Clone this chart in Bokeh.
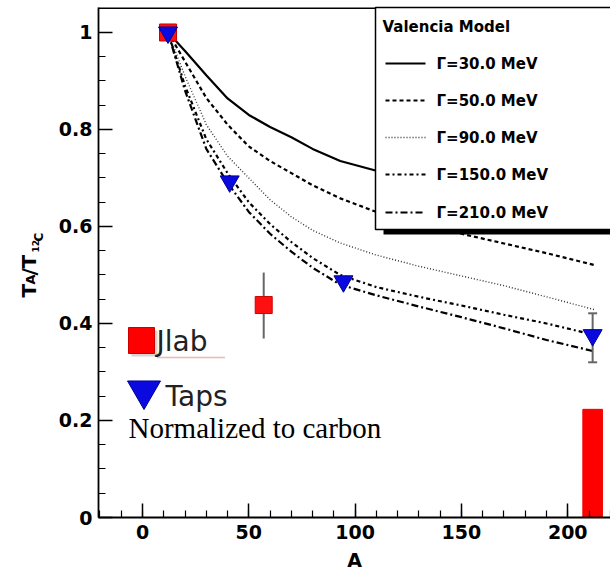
import math
from bokeh.plotting import figure
from bokeh.models import (Range1d, SingleIntervalTicker, CustomJSTickFormatter, Label,
                          BoxAnnotation)
from bokeh.embed import file_html
from bokeh.resources import INLINE

# ---------------- data ----------------
A_grid = [12, 20, 30, 40, 50, 60, 70, 80, 93, 110, 130, 150, 170, 190, 213]
ratio_g30 = [1.0, 0.962, 0.912, 0.864, 0.830, 0.805, 0.784, 0.760, 0.735, 0.715, 0.695, 0.678, 0.663, 0.650, 0.636]
ratio_g50 = [1.0, 0.940, 0.865, 0.810, 0.765, 0.735, 0.710, 0.685, 0.658, 0.630, 0.606, 0.585, 0.565, 0.545, 0.520]
ratio_g90 = [1.0, 0.910, 0.810, 0.745, 0.700, 0.655, 0.620, 0.592, 0.566, 0.541, 0.518, 0.498, 0.478, 0.455, 0.428]
ratio_g150 = [1.0, 0.890, 0.780, 0.710, 0.650, 0.605, 0.568, 0.535, 0.500, 0.475, 0.455, 0.437, 0.418, 0.400, 0.376]
ratio_g210 = [1.0, 0.880, 0.760, 0.690, 0.630, 0.585, 0.548, 0.515, 0.480, 0.458, 0.435, 0.413, 0.390, 0.366, 0.342]
gamma_labels = ["\u0393=30.0 MeV", "\u0393=50.0 MeV", "\u0393=90.0 MeV", "\u0393=150.0 MeV", "\u0393=210.0 MeV"]
legend_title = "Valencia Model"

taps_A = [12, 41, 94.5, 211.7]
taps_ratio = [1.0, 0.693, 0.487, 0.376]
taps_err_A = [211.7]
taps_err_lo = [0.320]
taps_err_hi = [0.421]

jlab_A = [12, 57]
jlab_ratio = [1.0, 0.438]
jlab_err_A = [57]
jlab_err_lo = [0.369]
jlab_err_hi = [0.505]
jlab_bar_A = [211.7]
jlab_bar_top = [0.223]

x_label = "A"
x_axis_start = -20.7
y_axis_top = 1.0515

# ---------------- layout (frame covers whole canvas; axes at fixed locations) ----------------
W, H = 610, 571
AXL, AXB, AXT = 98, 517, 7          # canvas x of y axis, canvas y of x axis, top frame line
x_end = 220.1
x_per_px = (x_end - x_axis_start) / (W - AXL)
x_start = x_axis_start - AXL * x_per_px
y_per_px = y_axis_top / (AXB - AXT)
y_start = -(H - AXB) * y_per_px
y_end = y_axis_top + AXT * y_per_px
SANS = "DejaVu Sans"


def cx2a(cx):
    return x_start + cx * x_per_px


def cy2r(cy):
    return y_end - cy * y_per_px


def sy(cy):
    return H - cy


def base(cy, fs):
    # canvas baseline -> Label y (compensates the renderer's baseline offset)
    return sy(cy - 0.34 * fs)


p = figure(frame_width=W, frame_height=H, min_border_left=0, min_border_right=0,
           min_border_top=0, min_border_bottom=0,
           x_range=Range1d(x_start, x_end), y_range=Range1d(y_start, y_end),
           output_backend="svg", toolbar_location=None, tools="")
p.grid.visible = False
p.outline_line_color = None
p.background_fill_color = "white"
p.border_fill_color = "white"

p.xaxis.ticker = SingleIntervalTicker(interval=50, num_minor_ticks=5)
p.yaxis.ticker = SingleIntervalTicker(interval=0.2, num_minor_ticks=4)
p.yaxis.formatter = CustomJSTickFormatter(code="return String(Math.round(tick*10)/10);")
p.xaxis.bounds = (x_axis_start, x_end)
p.yaxis.bounds = (0, y_axis_top)
p.xaxis.fixed_location = 0
p.yaxis.fixed_location = x_axis_start
for ax in (p.xaxis, p.yaxis):
    ax.major_tick_in = 14
    ax.major_tick_out = 0
    ax.minor_tick_in = 7
    ax.minor_tick_out = 0
    ax.major_tick_line_color = "black"
    ax.minor_tick_line_color = "black"
    ax.major_tick_line_width = 1.5
    ax.minor_tick_line_width = 1.2
    ax.axis_line_color = "black"
    ax.axis_line_width = 1.8
    ax.major_label_text_font = SANS
    ax.major_label_text_font_style = "bold"
    ax.major_label_text_font_size = "19px"
    ax.major_label_text_color = "black"
p.xaxis.axis_line_width = 2.2
p.xaxis.major_label_standoff = 7
p.yaxis.major_label_standoff = 6

# x-axis title, centred under the drawn axis
p.add_layout(Label(x=354, y=base(566, 19), x_units="screen", y_units="screen", text=x_label,
                   text_font=SANS, text_font_style="bold", text_font_size="19px",
                   text_color="black", text_align="center", text_baseline="alphabetic"))

# top frame line
p.add_layout(BoxAnnotation(left=x_axis_start, right=x_end, top=y_axis_top,
                           bottom=y_axis_top - 1.6 * y_per_px,
                           fill_color="black", fill_alpha=1.0, line_color=None))

# ---------------- curves ----------------
curve_sets = [ratio_g30, ratio_g50, ratio_g90, ratio_g150, ratio_g210]
styles = [
    dict(line_dash="solid", line_width=2.2, line_color="black"),
    dict(line_dash="4 3", line_width=2.2, line_color="black"),
    dict(line_dash="1 2", line_width=1.4, line_color="#333333"),
    dict(line_dash="4 3 2 3", line_width=2.2, line_color="black"),
    dict(line_dash="7 3 2 3", line_width=2.2, line_color="black"),
]
for vals, st in zip(curve_sets, styles):
    p.line(A_grid, vals, **st)

# ---------------- data points ----------------
p.segment(x0=jlab_err_A, y0=jlab_err_lo, x1=jlab_err_A, y1=jlab_err_hi, line_color="#666666", line_width=2)
p.segment(x0=taps_err_A, y0=taps_err_lo, x1=taps_err_A, y1=taps_err_hi, line_color="#666666", line_width=2)
p.scatter(taps_err_A + taps_err_A, taps_err_lo + taps_err_hi, marker="dash", size=9,
          line_color="#666666", line_width=2)
p.vbar(x=jlab_bar_A, top=jlab_bar_top, bottom=0, width=9.2, fill_color="#ff0000", line_color="#ee0000")
p.scatter(jlab_A, jlab_ratio, marker="square", size=17, fill_color="#ff1010", line_color="#cc0000")
p.scatter(taps_A, taps_ratio, marker="inverted_triangle", size=19, fill_color="#0a0ae0", line_color="#000090")

# ---------------- Valencia legend box ----------------
p.add_layout(BoxAnnotation(left=383, right=640, top=sy(229), bottom=sy(234),
                           left_units="screen", right_units="screen", top_units="screen",
                           bottom_units="screen", fill_color="black", fill_alpha=1.0,
                           line_color=None))
p.add_layout(BoxAnnotation(left=375, right=640, top=sy(7), bottom=sy(229),
                           left_units="screen", right_units="screen", top_units="screen",
                           bottom_units="screen", fill_color="white", fill_alpha=1.0,
                           line_color="black", line_width=1.5, line_alpha=1.0))
p.add_layout(Label(x=382, y=base(32, 15), x_units="screen", y_units="screen", text=legend_title,
                   text_font=SANS, text_font_style="bold", text_font_size="15px",
                   text_color="black", text_baseline="alphabetic", level="overlay"))
entry_cy = [63, 100, 137, 174, 212]
for lab, cy, st in zip(gamma_labels, entry_cy, styles):
    r = p.segment(x0=[cx2a(385)], y0=[cy2r(cy)], x1=[cx2a(425)], y1=[cy2r(cy)], **st)
    r.level = "overlay"
    p.add_layout(Label(x=436, y=sy(cy), x_units="screen", y_units="screen", text=lab,
                       text_font=SANS, text_font_style="bold", text_font_size="15px",
                       text_color="black", text_baseline="middle", level="overlay"))

# ---------------- Jlab / Taps key ----------------
p.scatter([cx2a(144)], [cy2r(343)], marker="square", size=26, fill_color="#888888",
          fill_alpha=0.35, line_color=None)
p.scatter([cx2a(141)], [cy2r(340)], marker="square", size=26, fill_color="#ff0000",
          line_color="#cc0000")
p.scatter([cx2a(143.5)], [cy2r(390)], marker="inverted_triangle", size=33, fill_color="#0a0ae0",
          line_color="#000090")
p.segment(x0=[cx2a(157)], y0=[cy2r(357)], x1=[cx2a(224)], y1=[cy2r(357)], line_color="#dd3030",
          line_width=1.5, line_dash="1 1", line_alpha=0.7)
p.add_layout(Label(x=156, y=base(351, 28), x_units="screen", y_units="screen", text="Jlab",
                   text_font=SANS, text_font_size="28px", text_color="#222222",
                   text_baseline="alphabetic"))
p.add_layout(Label(x=165, y=base(406, 28), x_units="screen", y_units="screen", text="Taps",
                   text_font=SANS, text_font_size="28px", text_color="#222222",
                   text_baseline="alphabetic"))
p.add_layout(Label(x=128, y=base(437, 29), x_units="screen", y_units="screen",
                   text="Normalized to carbon", text_font="Liberation Serif",
                   text_font_size="29px", text_color="black", text_baseline="alphabetic"))

# ---------------- y-axis title T_A / T_12C (rotated) ----------------
pieces = [  # text, font size (px), baseline canvas x, start canvas y
    ("T", 20, 35, 297),
    ("A", 13, 34, 284),
    ("/", 20, 35, 275),
    ("T", 20, 35, 268),
    ("12", 9, 38, 252),
    ("C", 12, 43, 241),
]
for txt, fs, bx, by in pieces:
    p.add_layout(Label(x=bx - 0.34 * fs, y=sy(by), x_units="screen", y_units="screen", text=txt,
                       angle=math.pi / 2, text_font=SANS, text_font_style="bold",
                       text_font_size=f"{fs}px", text_color="black", text_baseline="alphabetic",
                       text_align="left"))

open("out.html", "w").write(file_html(p, INLINE))
